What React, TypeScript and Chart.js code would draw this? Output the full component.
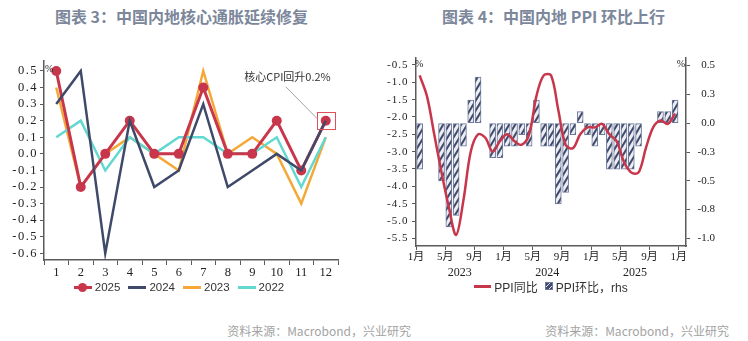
import React, { useEffect, useRef } from 'react';
import { Chart, registerables } from 'chart.js';

Chart.register(...registerables);

// ---------------- 图表 3 data ----------------
const coreMonthLabels = ['1', '2', '3', '4', '5', '6', '7', '8', '9', '10', '11', '12'];
const core2025 = [0.5, -0.2, 0.0, 0.2, 0.0, 0.0, 0.4, 0.0, 0.0, 0.2, -0.1, 0.2];
const core2024 = [0.3, 0.5, -0.6, 0.2, -0.2, -0.1, 0.3, -0.2, -0.1, 0.0, -0.1, 0.2];
const core2023 = [0.4, -0.2, 0.0, 0.1, 0.0, -0.1, 0.5, 0.0, 0.1, 0.0, -0.3, 0.1];
const core2022 = [0.1, 0.2, -0.1, 0.1, 0.0, 0.1, 0.1, 0.0, 0.0, 0.1, -0.2, 0.1];
const coreSeriesNames = ['2025', '2024', '2023', '2022'];
const coreYTicks = [0.5, 0.4, 0.3, 0.2, 0.1, 0.0, -0.1, -0.2, -0.3, -0.4, -0.5, -0.6];
const coreAnnotation = '核心CPI回升0.2%';

// ---------------- 图表 4 data ----------------
const ppiMonths = [
  '2023-01', '2023-02', '2023-03', '2023-04', '2023-05', '2023-06', '2023-07', '2023-08', '2023-09', '2023-10', '2023-11', '2023-12',
  '2024-01', '2024-02', '2024-03', '2024-04', '2024-05', '2024-06', '2024-07', '2024-08', '2024-09', '2024-10', '2024-11', '2024-12',
  '2025-01', '2025-02', '2025-03', '2025-04', '2025-05', '2025-06', '2025-07', '2025-08', '2025-09', '2025-10', '2025-11', '2025-12',
];
const ppiYoY = [
  -0.8, -1.4, -2.5, -3.6, -4.6, -5.4, -4.4, -3.0, -2.5, -2.6, -3.0, -2.7,
  -2.5, -2.7, -2.8, -2.5, -1.4, -0.8, -0.8, -1.8, -2.8, -2.9, -2.5, -2.3,
  -2.3, -2.2, -2.5, -2.7, -3.3, -3.6, -3.6, -2.9, -2.3, -2.1, -2.2, -1.9,
];
const ppiMoM = [
  -0.4, 0.0, 0.0, -0.5, -0.9, -0.8, -0.2, 0.2, 0.4, 0.0, -0.3, -0.3,
  -0.2, -0.2, -0.1, -0.2, 0.2, -0.2, -0.2, -0.7, -0.6, -0.1, 0.1, -0.1,
  -0.2, -0.1, -0.4, -0.4, -0.4, -0.4, -0.2, 0.0, 0.0, 0.1, 0.1, 0.2,
];
const ppiSeriesNames = ['PPI同比', 'PPI环比，rhs'];
const ppiMonthTicks = ['2023-01', '2023-05', '2023-09', '2024-01', '2024-05', '2024-09', '2025-01', '2025-05', '2025-09', '2026-01'];
const ppiMonthTickLabels = ['1月', '5月', '9月', '1月', '5月', '9月', '1月', '5月', '9月', '1月'];
const ppiYears = ['2023', '2024', '2025'];
const ppiLeftTicks = [-0.5, -1.0, -1.5, -2.0, -2.5, -3.0, -3.5, -4.0, -4.5, -5.0, -5.5];
const ppiRightTicks = [0.5, 0.25, 0.0, -0.25, -0.5, -0.75, -1.0];
const ppiRightTickLabels = ['0.5', '0.3', '0.0', '-0.3', '-0.5', '-0.8', '-1.0'];
const sourceText = '资料来源：Macrobond，兴业研究';

// ---------------- styles ----------------
const RED = '#c8364c';
const NAVY = '#3f4a6a';
const ORANGE = '#f3a838';
const CYAN = '#62d8d0';
const AXIS = '#5a5a5a';
const TEXT = '#222222';
const SERIF = "'Liberation Serif', 'Noto Sans CJK SC', serif";
const SANS = "'Liberation Sans', 'Noto Sans CJK SC', sans-serif";
const CJK = "'Noto Sans CJK SC', sans-serif";
const coreColors = [RED, NAVY, ORANGE, CYAN];

const monthIndex = (m: string) => {
  const [y, mo] = m.split('-').map(Number);
  return (y - 2023) * 12 + (mo - 1);
};

function fixWidth(w: number, spacing?: string) {
  return (scale: any) => {
    scale.width = w;
    scale.paddingTop = 0;
    scale.paddingBottom = 0;
    if (spacing && !scale._spaced) {
      scale._spaced = true;
      const orig = scale.drawLabels;
      scale.drawLabels = function (area: any) {
        const c = this.ctx;
        const prev = c.letterSpacing;
        c.letterSpacing = spacing;
        orig.call(this, area);
        c.letterSpacing = prev || '0px';
      };
    }
  };
}
function fixHeight(h: number) {
  return (scale: any) => {
    scale.height = h;
    scale.paddingLeft = 0;
    scale.paddingRight = 0;
  };
}

function makePattern(): CanvasPattern | string {
  const pc = document.createElement('canvas');
  pc.width = 6;
  pc.height = 10;
  const g = pc.getContext('2d');
  if (!g) return '#8090b0';
  g.fillStyle = '#eceef3';
  g.fillRect(0, 0, 6, 10);
  g.strokeStyle = NAVY;
  g.lineWidth = 2;
  for (const dx of [-6, 0, 6]) {
    g.beginPath();
    g.moveTo(dx - 1, 10 + 10 / 6);
    g.lineTo(dx + 7, -10 / 6);
    g.stroke();
  }
  const p = g.createPattern(pc, 'repeat');
  return p || '#8090b0';
}

// ---------------- 图表 3 ----------------
function CoreChart() {
  const ref = useRef<HTMLCanvasElement>(null);
  useEffect(() => {
    const annotate = {
      id: 'coreAnnotate',
      afterDatasetsDraw(chart: any) {
        const ctx = chart.ctx;
        const area = chart.chartArea;
        const pt = chart.getDatasetMeta(0).data[11];
        ctx.save();
        // unit
        ctx.fillStyle = TEXT;
        ctx.font = "10px 'Liberation Serif', serif";
        ctx.textAlign = 'left';
        ctx.textBaseline = 'middle';
        ctx.fillText('%', area.left + 1, area.top + 8);
        if (pt) {
          const x = pt.x;
          const y = pt.y;
          ctx.strokeStyle = '#e0505a';
          ctx.lineWidth = 1;
          ctx.strokeRect(Math.round(x - 9) + 0.5, Math.round(y - 9) + 0.5, 18, 17);
          ctx.strokeStyle = '#8c8c8c';
          ctx.lineWidth = 0.8;
          ctx.beginPath();
          ctx.moveTo(x - 40, y - 34);
          ctx.lineTo(x - 8.5, y - 2);
          ctx.stroke();
          ctx.fillStyle = '#333333';
          ctx.font = "11px 'Noto Sans CJK SC', sans-serif";
          ctx.textAlign = 'right';
          ctx.textBaseline = 'middle';
          ctx.fillText(coreAnnotation, x + 5, y - 44);
        }
        ctx.restore();
      },
    };
    const series = [core2025, core2024, core2023, core2022];
    const orders = [1, 0, 3, 2];
    const chart = new Chart(ref.current as HTMLCanvasElement, {
      type: 'line',
      data: {
        labels: coreMonthLabels,
        datasets: series.map((d, i) => ({
          label: coreSeriesNames[i],
          data: d,
          borderColor: coreColors[i],
          backgroundColor: coreColors[i],
          borderWidth: i === 0 ? 3 : 2.5,
          pointRadius: i === 0 ? 5 : 0,
          pointBorderWidth: 0,
          pointBackgroundColor: coreColors[i],
          tension: 0,
          fill: false,
          order: orders[i],
        })),
      },
      options: {
        animation: false,
        responsive: false,
        maintainAspectRatio: false,
        devicePixelRatio: 1,
        events: [],
        layout: { padding: { top: 11, right: 32, bottom: 0, left: 0 } },
        plugins: { legend: { display: false }, tooltip: { enabled: false }, title: { display: false } },
        scales: {
          x: {
            type: 'category',
            offset: true,
            grid: { offset: true, drawOnChartArea: false, drawTicks: true, tickLength: 5, color: AXIS, lineWidth: 1 },
            border: { display: true, color: AXIS, width: 1.5 },
            ticks: { color: TEXT, font: { family: SERIF, size: 12.5 }, padding: 0, maxRotation: 0, autoSkip: false },
            afterFit: fixHeight(25),
          },
          y: {
            type: 'linear',
            min: -0.64,
            max: 0.56,
            bounds: 'data',
            afterBuildTicks: (axis: any) => {
              axis.ticks = coreYTicks.map((v) => ({ value: v }));
            },
            grid: { drawOnChartArea: false, drawTicks: true, tickLength: 4, color: AXIS },
            border: { display: true, color: AXIS, width: 1.5 },
            ticks: {
              color: TEXT,
              font: { family: SERIF, size: 12.5 },
              padding: 2,
              callback: (v: any) => Number(v).toFixed(1),
            },
            afterFit: fixWidth(44, '1.5px'),
          },
        },
      } as any,
      plugins: [annotate],
    });
    return () => chart.destroy();
  }, []);
  return <canvas ref={ref} width={370} height={235} style={{ position: 'absolute', left: 0, top: 50, width: 370, height: 235 }} />;
}

// ---------------- 图表 4 ----------------
function PpiChart() {
  const ref = useRef<HTMLCanvasElement>(null);
  useEffect(() => {
    const pattern = makePattern();
    const units = {
      id: 'ppiUnits',
      afterDraw(chart: any) {
        const ctx = chart.ctx;
        const a = chart.chartArea;
        ctx.save();
        ctx.fillStyle = TEXT;
        ctx.font = "10px 'Liberation Serif', serif";
        ctx.textBaseline = 'middle';
        ctx.textAlign = 'left';
        ctx.fillText('%', a.left - 1, a.top + 6);
        ctx.textAlign = 'right';
        ctx.fillText('%', a.right - 1, a.top + 6);
        ctx.restore();
      },
    };
    const xMax = monthIndex('2026-01') + 1;
    const chart = new Chart(ref.current as HTMLCanvasElement, {
      type: 'bar',
      data: {
        datasets: [
          {
            type: 'line',
            label: ppiSeriesNames[0],
            data: ppiYoY.map((v, i) => ({ x: monthIndex(ppiMonths[i]) + 0.5, y: v })),
            xAxisID: 'x',
            yAxisID: 'y',
            borderColor: RED,
            backgroundColor: RED,
            borderWidth: 2.5,
            pointRadius: 0,
            tension: 0.35,
            fill: false,
            order: 0,
          },
          {
            type: 'bar',
            label: ppiSeriesNames[1],
            data: ppiMoM.map((v, i) => ({ x: monthIndex(ppiMonths[i]) + 0.5, y: v })),
            xAxisID: 'x',
            yAxisID: 'y2',
            backgroundColor: pattern,
            borderColor: '#6d789a',
            borderWidth: 1,
            borderSkipped: false,
            barThickness: 6,
            order: 1,
          },
        ],
      },
      options: {
        animation: false,
        responsive: false,
        maintainAspectRatio: false,
        devicePixelRatio: 1,
        events: [],
        layout: { padding: { top: 8, right: 33, bottom: 0, left: 0 } },
        plugins: { legend: { display: false }, tooltip: { enabled: false }, title: { display: false } },
        scales: {
          x: {
            type: 'linear',
            position: 'bottom',
            min: 0,
            max: xMax,
            bounds: 'data',
            offset: false,
            weight: 0,
            afterBuildTicks: (axis: any) => {
              axis.ticks = ppiMonthTicks.map((m) => ({ value: monthIndex(m) }));
            },
            grid: { offset: false, drawOnChartArea: false, drawTicks: true, tickLength: 4, color: AXIS },
            border: { display: true, color: AXIS, width: 1.5 },
            ticks: {
              color: TEXT,
              font: { family: SERIF, size: 11 },
              padding: 1,
              maxRotation: 0,
              autoSkip: false,
              callback: (v: any) => {
                const k = ppiMonthTicks.findIndex((m) => monthIndex(m) === v);
                return k >= 0 ? ppiMonthTickLabels[k] : '';
              },
            },
            afterFit: fixHeight(20),
          },
          x2: {
            type: 'linear',
            position: 'bottom',
            min: 0,
            max: xMax,
            bounds: 'data',
            offset: false,
            weight: 1,
            afterBuildTicks: (axis: any) => {
              axis.ticks = ppiYears.map((y) => ({ value: monthIndex(y + '-01') + 6 }));
            },
            grid: { display: false, drawTicks: false, drawOnChartArea: false },
            border: { display: false },
            ticks: {
              color: TEXT,
              font: { family: SERIF, size: 12 },
              padding: 0,
              maxRotation: 0,
              autoSkip: false,
              callback: (v: any) => {
                const k = ppiYears.findIndex((y) => monthIndex(y + '-01') + 6 === v);
                return k >= 0 ? ppiYears[k] : '';
              },
            },
            afterFit: fixHeight(20),
          },
          y: {
            type: 'linear',
            position: 'left',
            min: -5.72,
            max: -0.3,
            bounds: 'data',
            afterBuildTicks: (axis: any) => {
              axis.ticks = ppiLeftTicks.map((v) => ({ value: v }));
            },
            grid: { drawOnChartArea: false, drawTicks: true, tickLength: 4, color: AXIS },
            border: { display: true, color: AXIS, width: 1.5 },
            ticks: {
              color: TEXT,
              font: { family: SERIF, size: 11 },
              padding: 3.5,
              callback: (v: any) => Number(v).toFixed(1),
            },
            afterFit: fixWidth(42, '1px'),
          },
          y2: {
            type: 'linear',
            position: 'right',
            min: -1.066,
            max: 0.566,
            bounds: 'data',
            afterBuildTicks: (axis: any) => {
              axis.ticks = ppiRightTicks.map((v) => ({ value: v }));
            },
            grid: { drawOnChartArea: false, drawTicks: true, tickLength: 4, color: AXIS },
            border: { display: true, color: AXIS, width: 1.5 },
            ticks: {
              color: TEXT,
              font: { family: SERIF, size: 11 },
              padding: 4,
              crossAlign: 'far',
              callback: (v: any) => {
                const k = ppiRightTicks.findIndex((t) => Math.abs(t - v) < 1e-9);
                return k >= 0 ? ppiRightTickLabels[k] : '';
              },
            },
            afterFit: fixWidth(29),
          },
        },
      } as any,
      plugins: [units],
    });
    return () => chart.destroy();
  }, []);
  return <canvas ref={ref} width={374} height={236} style={{ position: 'absolute', left: 374, top: 50, width: 374, height: 236 }} />;
}

// ---------------- legend icons ----------------
function LineIcon({ color, marker, width = 18 }: { color: string; marker?: boolean; width?: number }) {
  return (
    <span style={{ position: 'relative', display: 'inline-block', width, height: 10 }}>
      <span style={{ position: 'absolute', left: 0, top: 3.5, width, height: 3, background: color }} />
      {marker ? (
        <span style={{ position: 'absolute', left: width / 2 - 4.5, top: 0.5, width: 9, height: 9, borderRadius: '50%', background: color }} />
      ) : null}
    </span>
  );
}
function HatchIcon() {
  return (
    <span
      style={{
        display: 'inline-block',
        width: 6,
        height: 6,
        border: '1px solid #6d789a',
        background: `repeating-linear-gradient(135deg, ${NAVY} 0px, ${NAVY} 2.5px, #dfe2ea 2.5px, #dfe2ea 3.5px)`,
      }}
    />
  );
}

const titleStyle = (left: number, width: number): React.CSSProperties => ({
  position: 'absolute',
  left,
  width,
  top: 6,
  height: 20,
  lineHeight: '20px',
  textAlign: 'center',
  fontFamily: CJK,
  fontWeight: 700,
  fontSize: 16,
  color: '#7c879b',
  whiteSpace: 'nowrap',
});

const sourceStyle = (left: number, width: number): React.CSSProperties => ({
  position: 'absolute',
  left,
  width,
  top: 323,
  height: 16,
  lineHeight: '16px',
  textAlign: 'right',
  fontFamily: CJK,
  fontSize: 12,
  color: '#a3a3a3',
  whiteSpace: 'nowrap',
});

export default function App() {
  return (
    <div style={{ position: 'fixed', left: 0, top: 0, width: 748, height: 341, background: '#ffffff', overflow: 'hidden' }}>
      <div style={titleStyle(0, 363)}>图表 3：中国内地核心通胀延续修复</div>
      <div style={titleStyle(374, 359)}>图表 4：中国内地 PPI 环比上行</div>
      <CoreChart />
      <PpiChart />
      <div
        style={{
          position: 'absolute',
          left: 0,
          width: 358,
          top: 280,
          height: 14,
          display: 'flex',
          justifyContent: 'center',
          alignItems: 'center',
          gap: 8,
          fontFamily: SANS,
          fontSize: 11.5,
          color: '#333',
        }}
      >
        {coreSeriesNames.map((n, i) => (
          <span key={n} style={{ display: 'inline-flex', alignItems: 'center', gap: 3 }}>
            <LineIcon color={coreColors[i]} marker={i === 0} />
            <span>{n}</span>
          </span>
        ))}
      </div>
      <div
        style={{
          position: 'absolute',
          left: 374,
          width: 354,
          top: 279,
          height: 14,
          display: 'flex',
          justifyContent: 'center',
          alignItems: 'center',
          gap: 7,
          fontFamily: SANS,
          fontSize: 12,
          color: '#333',
        }}
      >
        <span style={{ display: 'inline-flex', alignItems: 'center', gap: 3 }}>
          <LineIcon color={RED} width={17} />
          <span>{ppiSeriesNames[0]}</span>
        </span>
        <span style={{ display: 'inline-flex', alignItems: 'center', gap: 3 }}>
          <HatchIcon />
          <span>{ppiSeriesNames[1]}</span>
        </span>
      </div>
      <div style={sourceStyle(0, 411)}>{sourceText}</div>
      <div style={sourceStyle(374, 355)}>{sourceText}</div>
    </div>
  );
}
